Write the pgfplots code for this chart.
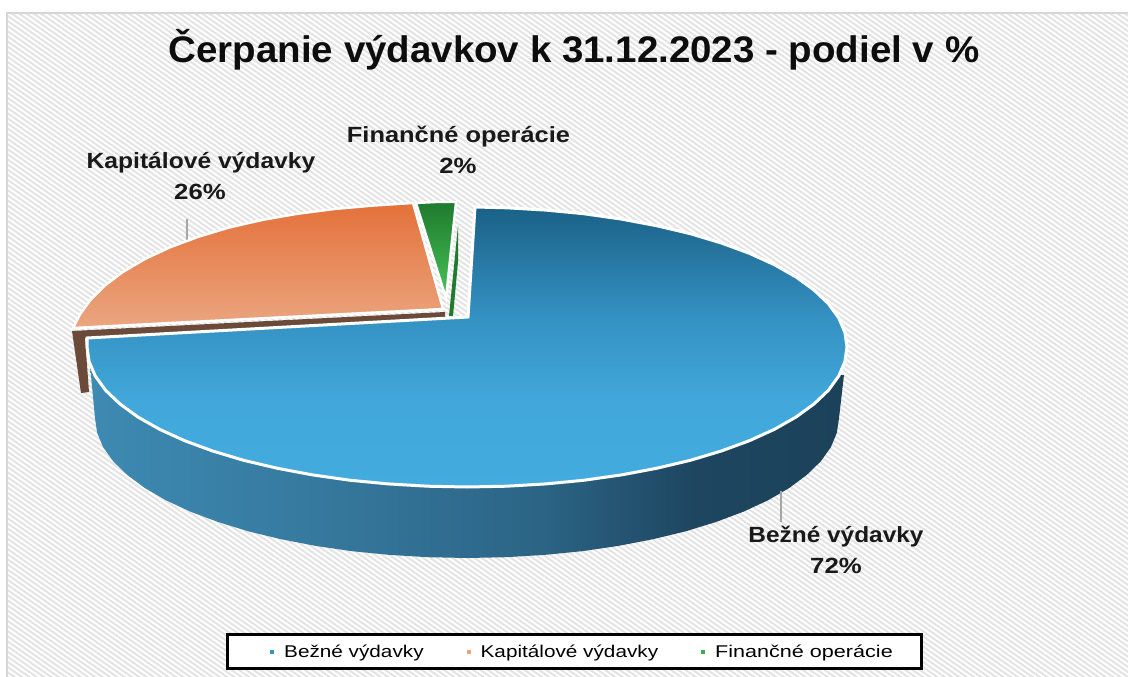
\documentclass[border=0pt]{standalone}
\usepackage{fontspec}
\usepackage{pgfplots}
\pgfplotsset{compat=1.18}
\usetikzlibrary{patterns.meta}
\setmainfont{Liberation Sans}
\definecolor{bluetop}{HTML}{1A6187}
\definecolor{bluemid}{HTML}{3592C3}
\definecolor{bluelow}{HTML}{42A8DB}
\definecolor{bluebot}{HTML}{43ABDE}
\definecolor{orgtop}{HTML}{E4713A}
\definecolor{orgbot}{HTML}{EBA680}
\definecolor{grntop}{HTML}{1F7A2E}
\definecolor{grnbot}{HTML}{46C456}
\definecolor{brown}{HTML}{6B4A3A}
\definecolor{lead}{HTML}{A6A6A6}
\definecolor{wa}{HTML}{3D8AB2}
\definecolor{wb}{HTML}{36799E}
\definecolor{wc}{HTML}{2B6485}
\definecolor{wd}{HTML}{1E4661}
\definecolor{we}{HTML}{1B4259}
\pgfdeclarehorizontalshading{wallshade}{100bp}{
 color(0bp)=(wa);color(25bp)=(wa);color(40bp)=(wb);color(55bp)=(wc);color(65bp)=(wd);color(75bp)=(we);color(100bp)=(we)}
\pgfdeclareverticalshading{topshade}{100bp}{
 color(0bp)=(bluebot);color(25bp)=(bluebot);color(40bp)=(bluelow);color(55bp)=(bluemid);color(75bp)=(bluetop);color(100bp)=(bluetop)}
\begin{document}
\begin{tikzpicture}
\begin{axis}[
  width=1128pt,height=677pt,scale only axis,
  xmin=0,xmax=1128,ymin=0,ymax=677,y dir=reverse,
  hide axis,clip=true,
  legend columns=3,
  legend style={at={(axis cs:574.5,651.5)},anchor=center,draw=black,line width=3pt,fill=white,
    inner xsep=27pt,inner ysep=8pt,
    font=\fontsize{17}{20}\selectfont,
    /tikz/every even column/.style={column sep=41pt},
    /tikz/every odd column/.style={column sep=8pt},
    cells={anchor=west}},
]
% page extent
\addplot[forget plot,draw=none,fill=white] coordinates {(0,0)(1128,0)(1128,677)(0,677)} --cycle;
% background
\addplot[forget plot,draw=none,
  pattern={Lines[angle=-35,distance=4.2pt,line width=2pt]},pattern color=black!11]
  coordinates {(7,13)(1128,13)(1128,677)(7,677)} --cycle;
\addplot[forget plot,draw=black!16,line width=1.6pt] coordinates {(7,677)(7,13)(1128,13)};
% side wall
\addplot[forget plot,draw=none,shading=wallshade] coordinates {
(844,375)(839,418)(836.9,432.6)(830.9,447.1)(820.8,461.3)(806.8,474.9)(789.2,488)(768,500.3)(743.4,511.7)(715.9,522)(685.7,531.3)(653,539.2)(618.3,545.9)(582,551.2)(544.3,554.9)(505.9,557.2)(467,558)(428.1,557.2)(389.7,554.9)(352,551.2)(315.7,545.9)(281,539.2)(248.3,531.3)(218.1,522)(190.6,511.7)(166,500.3)(144.8,488)(127.2,474.9)(113.2,461.3)(103.1,447.1)(97.1,432.6)(95,418)(90,365)(467,400)} --cycle;
% brown wall of the orange slice
\addplot[forget plot,draw=none,fill=brown] coordinates {(445,312)(72,331)(81,393)(89,392)(85,338)(445,318)} --cycle;
% green sliver
\addplot[forget plot,draw=none,fill=grntop] coordinates {(458,226)(449,316)(453,316)(458,262)} --cycle;
% leader lines
\addplot[forget plot,draw=lead,line width=1.4pt] coordinates {(187,219)(187,240)};
\addplot[forget plot,draw=lead,line width=1.4pt] coordinates {(781,491)(781,522)};
% blue top
\addplot[forget plot,draw=white,line width=3pt,line join=miter,shading=topshade] coordinates {
(475,207)(506.7,207.8)(546,210.1)(584.4,213.8)(621.5,219.1)(657,225.8)(690.4,233.7)(721.3,243)(749.4,253.3)(774.4,264.7)(796.1,277)(814.1,290.1)(828.4,303.7)(838.7,317.9)(844.9,332.4)(847,347)
(844.9,361.6)(838.7,376.1)(828.4,390.3)(814.1,403.9)(796.1,417)(774.4,429.3)(749.4,440.7)(721.3,451)(690.4,460.3)(657,468.2)(621.5,474.9)(584.4,480.2)(546,483.9)(506.7,486.2)(467,487)
(427.3,486.2)(388,483.9)(349.6,480.2)(312.5,474.9)(277,468.2)(243.6,460.3)(212.7,451)(184.6,440.7)(159.6,429.3)(137.9,417)(119.9,403.9)(105.6,390.3)(95.3,376.1)(89.1,361.6)(87,347)(87.2,338)(468,317)} --cycle;
% orange top
\addplot[forget plot,draw=white,line width=2.4pt,top color=orgtop,bottom color=orgbot] coordinates {
(413,203)(373,205.6)(334.6,209)(297.5,213.8)(262,220)(228.6,227.7)(197.7,237)(169.6,247.5)(144.6,259.2)(122.9,272)(104.9,285.5)(90.6,299.7)(80.3,313.9)(73,328)(443,309)} --cycle;
% green top
\addplot[forget plot,draw=white,line width=2.4pt,top color=grntop,bottom color=grnbot] coordinates {(416,203)(436,202)(456,202)(446,298)} --cycle;
% labels
\node[font=\fontsize{37}{40}\selectfont\bfseries,text=black!95,xscale=1.04] at (axis cs:574,50) {Čerpanie výdavkov k 31.12.2023 - podiel v \%};
\node[font=\fontsize{22}{24}\selectfont\bfseries,text=black!90,xscale=1.12] at (axis cs:201,163) {Kapitálové výdavky};
\node[font=\fontsize{22}{24}\selectfont\bfseries,text=black!90,xscale=1.17] at (axis cs:200,192) {26\%};
\node[font=\fontsize{22}{24}\selectfont\bfseries,text=black!90,xscale=1.155] at (axis cs:458.5,136.5) {Finančné operácie};
\node[font=\fontsize{22}{24}\selectfont\bfseries,text=black!90,xscale=1.17] at (axis cs:458,166) {2\%};
\node[font=\fontsize{22}{24}\selectfont\bfseries,text=black!90,xscale=1.11] at (axis cs:836,537) {Bežné výdavky};
\node[font=\fontsize{22}{24}\selectfont\bfseries,text=black!90,xscale=1.17] at (axis cs:836,566) {72\%};
% legend
\addlegendimage{legend image code/.code={\path[draw=none] (-16pt,0pt) -- (4pt,0pt);\fill[draw=none,fill=bluemid] (0pt,-2pt) rectangle (4pt,2pt);}}
\addlegendentry{\scalebox{1.22}[1]{Bežné výdavky}}
\addlegendimage{legend image code/.code={\fill[draw=none,fill=orgbot] (0pt,-2pt) rectangle (4pt,2pt);}}
\addlegendentry{\scalebox{1.22}[1]{Kapitálové výdavky}}
\addlegendimage{legend image code/.code={\fill[draw=none,fill=grnbot!70!grntop] (0pt,-2pt) rectangle (4pt,2pt);}}
\addlegendentry{\scalebox{1.27}[1]{Finančné operácie}}
\end{axis}
\end{tikzpicture}
\end{document}
